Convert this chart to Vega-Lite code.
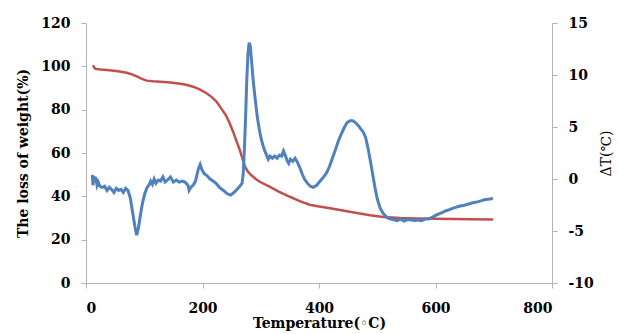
{
  "$schema": "https://vega.github.io/schema/vega-lite/v6.json",
  "width": 466,
  "height": 260,
  "autosize": {"type": "none"},
  "padding": {"left": 86, "top": 23, "right": 66, "bottom": 51},
  "background": "white",
  "config": {
    "view": {"stroke": null},
    "axis": {
      "grid": false,
      "domainColor": "#b4b4b4",
      "tickColor": "#b4b4b4",
      "tickSize": 5,
      "labelFont": "DejaVu Serif",
      "labelFontWeight": "bold",
      "labelFontSize": 14,
      "labelColor": "#000000",
      "titleFont": "DejaVu Serif",
      "titleFontWeight": "bold",
      "titleFontSize": 14,
      "titleColor": "#000000"
    }
  },
  "datasets": {
    "tg": [
      {"T": 12, "W": 100.5}, {"T": 14, "W": 99.5}, {"T": 16, "W": 98.9}, {"T": 25, "W": 98.5},
      {"T": 40, "W": 98.2}, {"T": 55, "W": 97.7}, {"T": 70, "W": 97.0}, {"T": 80, "W": 96.2},
      {"T": 88, "W": 95.2}, {"T": 95, "W": 94.3}, {"T": 104, "W": 93.4}, {"T": 115, "W": 93.1},
      {"T": 128, "W": 92.9}, {"T": 140, "W": 92.7}, {"T": 152, "W": 92.3}, {"T": 162, "W": 92.0},
      {"T": 172, "W": 91.5}, {"T": 184, "W": 90.6}, {"T": 195, "W": 89.4}, {"T": 207, "W": 87.6},
      {"T": 216, "W": 85.8}, {"T": 224, "W": 83.7}, {"T": 232, "W": 80.6}, {"T": 240, "W": 77.5},
      {"T": 247, "W": 73.5}, {"T": 253, "W": 69.5}, {"T": 259, "W": 65.0}, {"T": 264, "W": 61.4},
      {"T": 269, "W": 57.0}, {"T": 273, "W": 53.7}, {"T": 278, "W": 51.4}, {"T": 284, "W": 49.7},
      {"T": 292, "W": 47.9}, {"T": 300, "W": 46.5}, {"T": 316, "W": 44.4}, {"T": 330, "W": 42.3},
      {"T": 350, "W": 39.8}, {"T": 368, "W": 37.7}, {"T": 384, "W": 36.1}, {"T": 400, "W": 35.3},
      {"T": 419, "W": 34.5}, {"T": 436, "W": 33.7}, {"T": 453, "W": 32.9}, {"T": 470, "W": 32.1},
      {"T": 488, "W": 31.3}, {"T": 510, "W": 30.5}, {"T": 540, "W": 30.0}, {"T": 568, "W": 29.8},
      {"T": 600, "W": 29.6}, {"T": 630, "W": 29.5}, {"T": 660, "W": 29.4}, {"T": 699, "W": 29.3}
    ],
    "dta": [
      {"T": 10.8, "D": 0.4}, {"T": 12, "D": -0.6}, {"T": 13.5, "D": 0.3}, {"T": 15, "D": -0.3},
      {"T": 16.5, "D": 0.2}, {"T": 19, "D": -0.6}, {"T": 21, "D": -0.3}, {"T": 24, "D": -0.7},
      {"T": 28, "D": -0.8}, {"T": 32, "D": -0.7}, {"T": 36, "D": -1.1}, {"T": 40, "D": -0.8},
      {"T": 44, "D": -1.0}, {"T": 48, "D": -1.3}, {"T": 52, "D": -0.9}, {"T": 56, "D": -1.1},
      {"T": 60, "D": -1.0}, {"T": 64, "D": -1.3}, {"T": 68, "D": -0.9}, {"T": 72, "D": -1.1},
      {"T": 76, "D": -1.8}, {"T": 80, "D": -3.2}, {"T": 84, "D": -4.6}, {"T": 87, "D": -5.4},
      {"T": 90, "D": -4.7}, {"T": 93, "D": -3.6}, {"T": 97, "D": -2.3}, {"T": 101, "D": -1.4},
      {"T": 105, "D": -0.8}, {"T": 108, "D": -0.6}, {"T": 111, "D": -0.2}, {"T": 114, "D": -0.5},
      {"T": 117, "D": 0.0}, {"T": 120, "D": -0.4}, {"T": 124, "D": -0.1}, {"T": 128, "D": -0.2},
      {"T": 132, "D": 0.2}, {"T": 136, "D": -0.3}, {"T": 140, "D": -0.1}, {"T": 145, "D": 0.2},
      {"T": 150, "D": -0.3}, {"T": 155, "D": -0.1}, {"T": 160, "D": -0.3}, {"T": 165, "D": -0.2},
      {"T": 170, "D": -0.3}, {"T": 175, "D": -0.6}, {"T": 177, "D": -1.1}, {"T": 180, "D": -0.8},
      {"T": 184, "D": -0.6}, {"T": 188, "D": -0.2}, {"T": 193, "D": 1.0}, {"T": 196, "D": 1.4},
      {"T": 199, "D": 0.9}, {"T": 203, "D": 0.5}, {"T": 208, "D": 0.3}, {"T": 213, "D": 0.0},
      {"T": 218, "D": -0.2}, {"T": 223, "D": -0.4}, {"T": 229, "D": -0.8}, {"T": 236, "D": -1.1},
      {"T": 242, "D": -1.4}, {"T": 248, "D": -1.55}, {"T": 254, "D": -1.3}, {"T": 259, "D": -1.0},
      {"T": 264, "D": -0.7}, {"T": 268, "D": -0.4}, {"T": 270, "D": 0.6}, {"T": 272, "D": 3.0},
      {"T": 274, "D": 6.0}, {"T": 276, "D": 9.5}, {"T": 278, "D": 12.0}, {"T": 280, "D": 13.1},
      {"T": 282, "D": 12.8}, {"T": 284, "D": 11.5}, {"T": 287, "D": 9.5}, {"T": 290, "D": 7.9},
      {"T": 294, "D": 6.0}, {"T": 298, "D": 4.6}, {"T": 301, "D": 3.8}, {"T": 304, "D": 3.2},
      {"T": 307, "D": 2.7}, {"T": 310, "D": 2.3}, {"T": 313, "D": 1.9}, {"T": 316, "D": 2.2},
      {"T": 320, "D": 2.0}, {"T": 324, "D": 2.2}, {"T": 328, "D": 2.0}, {"T": 332, "D": 2.3},
      {"T": 336, "D": 2.2}, {"T": 339, "D": 2.7}, {"T": 342, "D": 2.3}, {"T": 345, "D": 1.8},
      {"T": 348, "D": 1.5}, {"T": 351, "D": 1.9}, {"T": 355, "D": 1.7}, {"T": 359, "D": 2.0},
      {"T": 363, "D": 1.6}, {"T": 367, "D": 1.1}, {"T": 371, "D": 0.5}, {"T": 375, "D": 0.0},
      {"T": 380, "D": -0.4}, {"T": 385, "D": -0.7}, {"T": 390, "D": -0.8}, {"T": 396, "D": -0.6},
      {"T": 402, "D": -0.2}, {"T": 408, "D": 0.2}, {"T": 413, "D": 0.6}, {"T": 418, "D": 1.2},
      {"T": 423, "D": 2.0}, {"T": 428, "D": 2.8}, {"T": 433, "D": 3.6}, {"T": 438, "D": 4.3},
      {"T": 443, "D": 4.9}, {"T": 448, "D": 5.4}, {"T": 453, "D": 5.6}, {"T": 458, "D": 5.6},
      {"T": 463, "D": 5.4}, {"T": 468, "D": 5.1}, {"T": 472, "D": 4.8}, {"T": 476, "D": 4.5},
      {"T": 480, "D": 4.0}, {"T": 484, "D": 3.0}, {"T": 488, "D": 1.8}, {"T": 492, "D": 0.5},
      {"T": 496, "D": -0.8}, {"T": 500, "D": -1.9}, {"T": 505, "D": -2.8}, {"T": 510, "D": -3.3},
      {"T": 515, "D": -3.6}, {"T": 520, "D": -3.8}, {"T": 527, "D": -3.9}, {"T": 534, "D": -4.0},
      {"T": 540, "D": -3.85}, {"T": 546, "D": -4.05}, {"T": 552, "D": -3.9}, {"T": 558, "D": -3.95},
      {"T": 564, "D": -4.0}, {"T": 570, "D": -3.95}, {"T": 576, "D": -4.0}, {"T": 582, "D": -3.85},
      {"T": 588, "D": -3.85}, {"T": 594, "D": -3.7}, {"T": 600, "D": -3.5}, {"T": 606, "D": -3.35},
      {"T": 612, "D": -3.2}, {"T": 618, "D": -3.05}, {"T": 624, "D": -2.95}, {"T": 630, "D": -2.8},
      {"T": 636, "D": -2.7}, {"T": 642, "D": -2.6}, {"T": 648, "D": -2.55}, {"T": 654, "D": -2.45},
      {"T": 660, "D": -2.35}, {"T": 666, "D": -2.25}, {"T": 672, "D": -2.2}, {"T": 678, "D": -2.1},
      {"T": 684, "D": -2.0}, {"T": 690, "D": -1.95}, {"T": 696, "D": -1.9}, {"T": 698, "D": -1.8}
    ]
  },
  "layer": [
    {
      "data": {"name": "tg"},
      "mark": {"type": "line", "color": "#C0504D", "strokeWidth": 2.5},
      "encoding": {
        "x": {
          "field": "T", "type": "quantitative",
          "scale": {"domain": [0, 800], "nice": false},
          "axis": {"values": [0, 200, 400, 600, 800], "title": "Temperature(◦C)", "labelPadding": 13, "titlePadding": 1}
        },
        "y": {
          "field": "W", "type": "quantitative",
          "scale": {"domain": [0, 120], "nice": false},
          "axis": {"orient": "left", "values": [0, 20, 40, 60, 80, 100, 120], "title": "The loss of weight(%)", "labelPadding": 11, "titlePadding": 10}
        }
      }
    },
    {
      "data": {"name": "dta"},
      "mark": {"type": "line", "color": "#4F81BD", "strokeWidth": 3},
      "encoding": {
        "x": {"field": "T", "type": "quantitative", "scale": {"domain": [0, 800], "nice": false}},
        "y": {
          "field": "D", "type": "quantitative",
          "scale": {"domain": [-10, 15], "nice": false},
          "axis": {"orient": "right", "values": [-10, -5, 0, 5, 10, 15], "labelExpr": "'' + datum.value", "title": "ΔT(℃)", "titleFontWeight": "normal", "titleAngle": 270, "labelPadding": 11, "titlePadding": 20}
        }
      }
    }
  ],
  "resolve": {"scale": {"y": "independent"}}
}
